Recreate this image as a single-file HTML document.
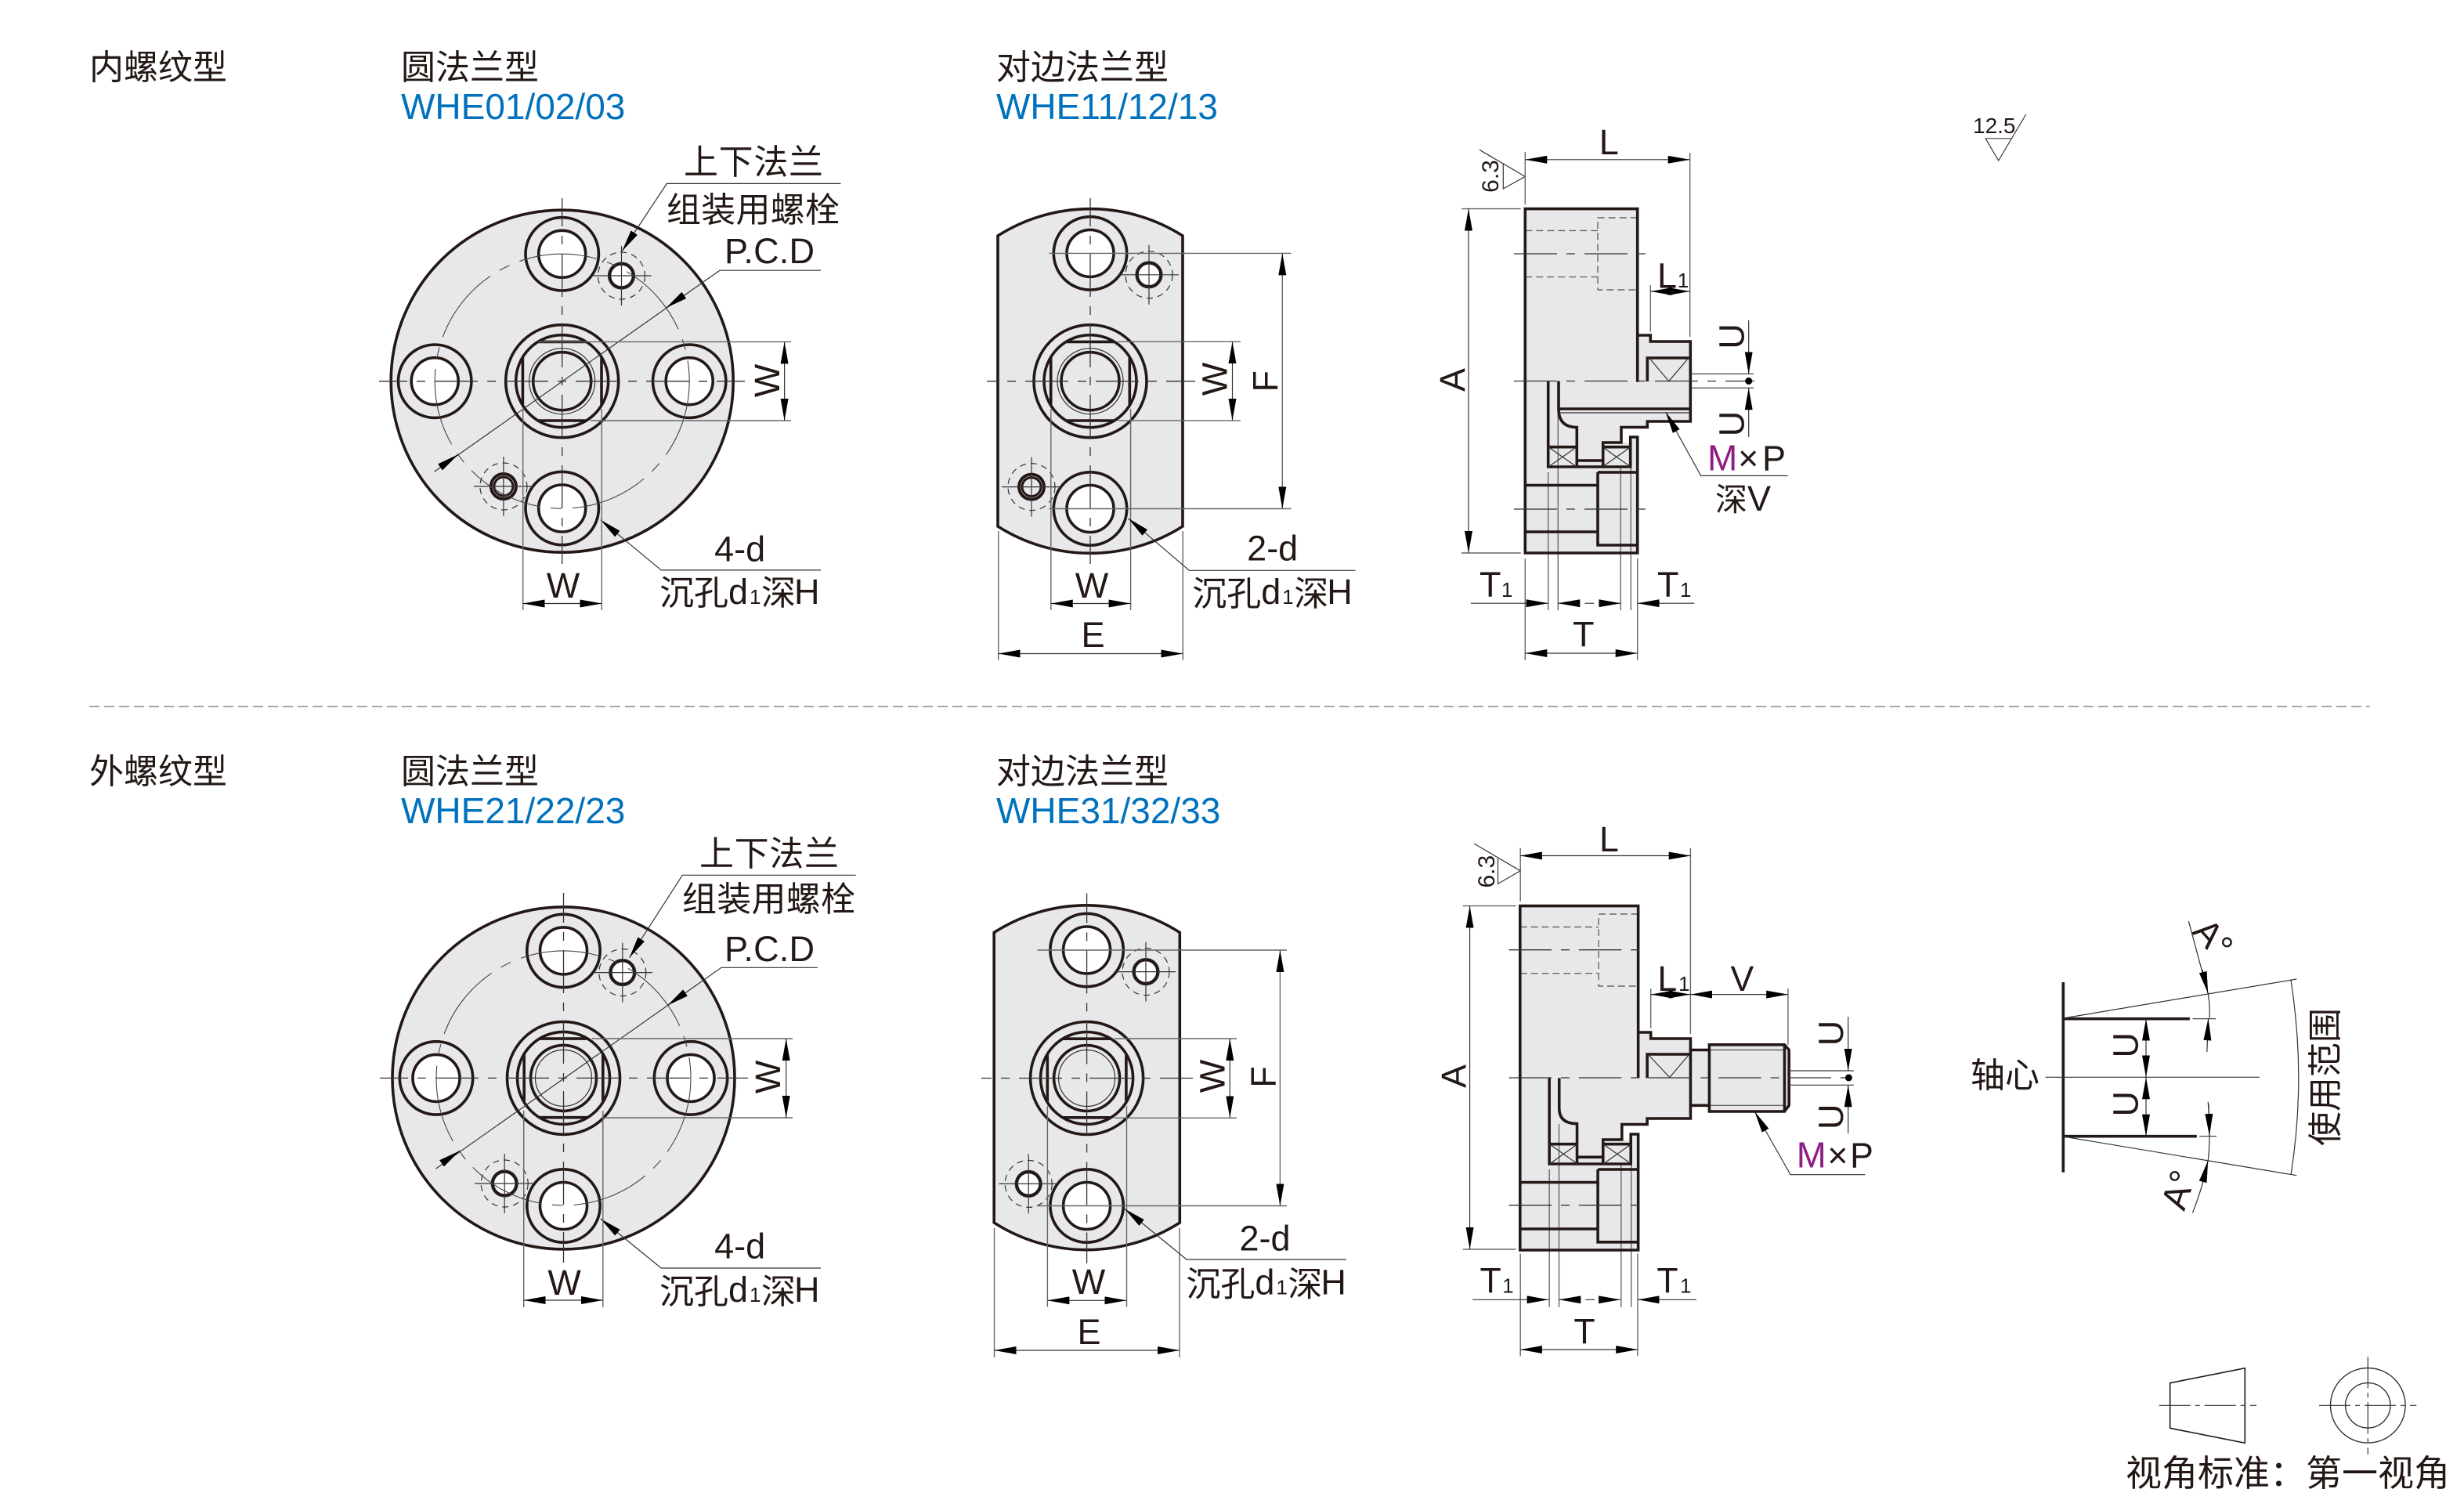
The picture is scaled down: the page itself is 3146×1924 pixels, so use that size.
<!DOCTYPE html>
<html lang="zh"><head><meta charset="utf-8"><title>WHE</title>
<style>
html,body{margin:0;padding:0;background:#fff}
svg{display:block}
text{font-family:"Liberation Sans","Noto Sans CJK SC",sans-serif;fill:#231815;font-size:45px}
.z{font-size:44px}
.s{font-size:26px}
.b{fill:#0071bc;font-size:46px}
.m{fill:#8e1e82;font-size:46px}
.t{stroke:#231815;stroke-width:3.6;fill:none}
.n{stroke:#333;stroke-width:1.2;fill:none}
.g{stroke:#666;stroke-width:1.4;fill:none}
.c{stroke:#333;stroke-width:1.3;fill:none;stroke-dasharray:55 12 11 12}
.p{stroke:#444;stroke-width:1.1;fill:none;stroke-dasharray:100 14 14 14}
.d{stroke:#666;stroke-width:1.4;fill:none;stroke-dasharray:9 5}
.f{fill:#e8e8ea;stroke:none}
</style></head><body>
<svg xmlns="http://www.w3.org/2000/svg" width="3146" height="1924" viewBox="0 0 3146 1924">
<defs>
<marker id="a" viewBox="0 0 28 10" refX="28" refY="5" markerWidth="28" markerHeight="10" markerUnits="userSpaceOnUse" orient="auto-start-reverse"><path d="M0 0L28 5L0 10z" fill="#000"/></marker>
<g id="cb"><circle r="46.7" class="t"/><circle r="30" class="t" fill="#fff" style="fill:#fff"/></g>
<g id="hubA"><circle r="72" class="t"/><circle r="59" class="t"/><circle r="42" class="n"/><circle r="37" class="t"/><path class="t" d="M-50.3 -30V30M50.3 -30V30M-30 -50.3H30M-30 50.3H30"/></g>
<g id="hubB"><circle r="72" class="t"/><circle r="59" class="t"/><circle r="36" class="n"/><circle r="42" class="t"/><path class="t" d="M-50.3 -30V30M50.3 -30V30M-30 -50.3H30M-30 50.3H30"/></g>
<g id="sm1"><circle r="30" class="n" style="stroke-dasharray:8 6"/><circle r="17" class="n"/><circle r="15" class="t" style="fill:#fff"/><path class="n" d="M-38 0H38M0 -38V38"/></g>
<g id="sm2"><circle r="30" class="n" style="stroke-dasharray:8 6"/><circle r="16" class="t" style="stroke-width:4"/><circle r="12" class="t" style="stroke-width:3"/><path class="n" d="M-38 0H38M0 -38V38"/></g>
<g id="xb"><path class="n" d="M0 0L36 25.3M36 0L0 25.3"/></g>
</defs>

<!-- headings -->
<text class="z" x="114" y="101">内螺纹型</text>
<text class="z" x="512" y="101">圆法兰型</text>
<text class="b" x="512" y="152">WHE01/02/03</text>
<text class="z" x="1272" y="101">对边法兰型</text>
<text class="b" x="1272" y="152">WHE11/12/13</text>
<line x1="114" y1="902" x2="3026" y2="902" stroke="#888" stroke-width="1.5" stroke-dasharray="13 6"/>
<text class="z" x="114" y="1000">外螺纹型</text>
<text class="z" x="512" y="1000">圆法兰型</text>
<text class="b" x="512" y="1051">WHE21/22/23</text>
<text class="z" x="1272" y="1000">对边法兰型</text>
<text class="b" x="1272" y="1051">WHE31/32/33</text>

<!-- 12.5 -->
<text x="2519" y="170" style="font-size:28px">12.5</text>
<path class="g" d="M2535 176.7H2568.3"/>
<path class="n" d="M2535 176.7L2551.7 205L2586.7 146"/>

<!-- A1 -->
<circle cx="717.7" cy="486.7" r="218.5" class="t" style="fill:#e8e8ea"/>
<use href="#cb" x="717.7" y="324.3"/><use href="#cb" x="555.2" y="486.7"/><use href="#cb" x="880.2" y="486.7"/><use href="#cb" x="717.7" y="649"/>
<use href="#hubA" x="717.7" y="486.7"/>
<use href="#sm1" x="793.5" y="352"/><use href="#sm2" x="642.9" y="621"/>
<circle cx="717.7" cy="486.7" r="162.5" class="p"/>
<line class="c" x1="484" y1="486.7" x2="951" y2="486.7" stroke-dashoffset="19"/>
<line class="c" x1="717.7" y1="253" x2="717.7" y2="720" stroke-dashoffset="19"/>
<path class="n" d="M554.5 602.2L919 345.2H1048"/>
<line class="n" x1="873.4" y1="376.9" x2="850.5" y2="393" marker-end="url(#a)"/>
<line class="n" x1="562" y1="596.4" x2="584.9" y2="580.3" marker-end="url(#a)"/>
<path class="n" d="M794.3 320.5L851.4 234.4H1073.5" marker-start="url(#a)"/>
<path class="n" d="M766.8 663.7L844.2 727.9H1048" marker-start="url(#a)"/>
<path class="g" d="M688 436.4H1010M754 537H1010M667.7 522V779M768.3 522V779"/>
<line class="n" x1="1001.6" y1="436.4" x2="1001.6" y2="537" marker-start="url(#a)" marker-end="url(#a)"/>
<line class="n" x1="667.7" y1="770.5" x2="768.3" y2="770.5" marker-start="url(#a)" marker-end="url(#a)"/>
<text class="z" x="873" y="222" textLength="178">上下法兰</text>
<text class="z" x="851" y="283" textLength="221">组装用螺栓</text>
<text x="925" y="336" textLength="115">P.C.D</text>
<text x="944.6" y="716.5" text-anchor="middle">4-d</text>
<text x="719" y="763" text-anchor="middle">W</text>
<text transform="translate(995,486) rotate(-90)" text-anchor="middle">W</text>
<g transform="translate(842,0)"><text class="z" y="772">沉孔</text><text x="88" y="771">d</text><text class="s" x="115" y="771">1</text><text class="z" x="130" y="772">深</text><text x="172" y="771">H</text></g>

<!-- B1 -->
<path class="t" style="fill:#e8e8ea" d="M1274 301A220 220 0 0 1 1510 301V672A220 220 0 0 1 1274 672Z"/>
<use href="#cb" x="1392" y="323.4"/><use href="#cb" x="1392" y="649.5"/>
<use href="#hubA" x="1392" y="486.7"/>
<use href="#sm1" x="1467" y="350.8"/><use href="#sm2" x="1317" y="621.6"/>
<line class="c" x1="1260" y1="486.7" x2="1526" y2="486.7" stroke-dashoffset="41"/>
<line class="c" x1="1392" y1="253" x2="1392" y2="720" stroke-dashoffset="19"/>
<path class="g" d="M1339.4 323.4H1648.5M1339.4 649.5H1648.5M1427.7 436.2H1584M1427.7 536.9H1584M1341.8 522V779M1443.6 522V779M1274.7 678V843M1510.3 678V843"/>
<line class="g" x1="1637.3" y1="323.4" x2="1637.3" y2="649.5" marker-start="url(#a)" marker-end="url(#a)"/>
<line class="n" x1="1573.5" y1="436.2" x2="1573.5" y2="536.9" marker-start="url(#a)" marker-end="url(#a)"/>
<line class="n" x1="1341.8" y1="770.5" x2="1443.6" y2="770.5" marker-start="url(#a)" marker-end="url(#a)"/>
<line class="n" x1="1274.7" y1="834.5" x2="1510.3" y2="834.5" marker-start="url(#a)" marker-end="url(#a)"/>
<path class="n" d="M1440.5 661.8L1518.4 728.3H1730.6" marker-start="url(#a)"/>
<text transform="translate(1631,486.7) rotate(-90)" text-anchor="middle">F</text>
<text transform="translate(1566.5,484) rotate(-90)" text-anchor="middle">W</text>
<text x="1394" y="763" text-anchor="middle">W</text>
<text x="1395.5" y="826" text-anchor="middle">E</text>
<text x="1624.7" y="715.4" text-anchor="middle">2-d</text>
<g transform="translate(1522.3,0)"><text class="z" y="773">沉孔</text><text x="88" y="771">d</text><text class="s" x="115" y="771">1</text><text class="z" x="130" y="773">深</text><text x="172" y="771">H</text></g>

<!-- C1 -->
<path class="f" d="M1947.3 266.6H2090.7V428H2107.3V436H2158.3V538H2103.3V545.5H2070V565H2081.7V558H2090.7V706H1947.3Z"/>
<path class="d" d="M1947.3 294.4H2040M1947.3 353.6H2040M2090.7 278H2040V370H2090.7"/>
<path class="g" d="M1976.7 603V779M1989.3 527V779M2069.3 596V779M2082.3 596V779"/>
<path class="t" d="M2090.7 487.7V266.6H1947.3V706H2090.7V558H2081.7V596H1976.7V486.5M1990 486.5V522Q1990 545.5 2013.3 545.5V596M2090.7 558V596M2090.7 428H2107.3V436H2158.3V538H2103.3V545.5H2070V565H2046.7V596M2103.3 487V457H2158.3M1990 522H2158.3M1976.7 570.7H2013.3M2046.7 570.7H2081.7M2013.3 588H2046.7M2040 603H2090.7M2040 603V696H2090.7M1947.3 619.5H2040M1947.3 679H2040M2090.7 596V706"/>
<path class="n" d="M1990 527H2158M2105.7 457L2130.7 486.7L2156 457"/>
<use href="#xb" x="1977" y="570.7"/><use href="#xb" x="2046" y="570.7"/>
<line class="c" x1="1933" y1="324" x2="2105" y2="324"/>
<line class="c" x1="1933" y1="650" x2="2103" y2="650"/>
<line class="c" x1="1933" y1="486.5" x2="2240" y2="486.5"/>
<path class="n" d="M2158 477.3H2239M2158 495.3H2239M1889 191.3L1947.3 225.4L1919.3 241V208.3"/>
<ellipse cx="2232.7" cy="486.5" rx="4.5" ry="4.5" fill="#000"/>
<line class="n" x1="2232.7" y1="409" x2="2232.7" y2="477.3" marker-end="url(#a)"/>
<line class="n" x1="2232.7" y1="558" x2="2232.7" y2="495.3" marker-end="url(#a)"/>
<path class="g" d="M1866 266.6H1941.7M1866 706H1941.7M1947.3 194V261M2157.7 195V430M2107.3 364V423.6M1947.3 713V843M2090.7 713V843"/>
<line class="n" x1="1875" y1="266.6" x2="1875" y2="706" marker-start="url(#a)" marker-end="url(#a)"/>
<line class="n" x1="1947.3" y1="203.8" x2="2157.7" y2="203.8" marker-start="url(#a)" marker-end="url(#a)"/>
<line class="n" x1="2107.3" y1="372" x2="2157.7" y2="372" marker-start="url(#a)" marker-end="url(#a)"/>
<line class="n" x1="1878" y1="770.2" x2="1976.7" y2="770.2" marker-end="url(#a)"/>
<line class="n" x1="1989.3" y1="770.2" x2="2069.3" y2="770.2" stroke-dasharray="28 6 12 6 28" marker-start="url(#a)" marker-end="url(#a)"/>
<line class="n" x1="2163.3" y1="770.2" x2="2090.7" y2="770.2" marker-end="url(#a)"/>
<line class="n" x1="1947.3" y1="834" x2="2090.7" y2="834" marker-start="url(#a)" marker-end="url(#a)"/>
<path class="n" d="M2126.7 526L2171.7 607.4H2282.7" marker-start="url(#a)"/>
<text x="2054.3" y="197" text-anchor="middle">L</text>
<text transform="translate(1913,225) rotate(-90)" text-anchor="middle" style="font-size:30px">6.3</text>
<text x="2116" y="367.5">L</text><text class="s" x="2141.7" y="367">1</text>
<text transform="translate(1870,485) rotate(-90)" text-anchor="middle">A</text>
<text transform="translate(2226.7,429.4) rotate(-90)" text-anchor="middle">U</text>
<text transform="translate(2226.7,541) rotate(-90)" text-anchor="middle">U</text>
<text x="1889" y="762">T</text><text class="s" x="1917" y="762">1</text>
<text x="2116" y="762">T</text><text class="s" x="2145" y="762">1</text>
<text x="2021.7" y="825.5" text-anchor="middle">T</text>
<text class="m" x="2180" y="600.7">M</text><text x="2219" y="600.7">×</text><text x="2250" y="600.7">P</text>
<text class="z" x="2190" y="652" style="font-size:41px">深</text><text x="2231" y="652">V</text>

<!-- A2 -->
<circle cx="719.5" cy="1376.4" r="218.5" class="t" style="fill:#e8e8ea"/>
<use href="#cb" x="719.5" y="1213.9"/><use href="#cb" x="557" y="1376.4"/><use href="#cb" x="882" y="1376.4"/><use href="#cb" x="719.5" y="1539.5"/>
<use href="#hubB" x="719.5" y="1376.4"/>
<use href="#sm1" x="794.8" y="1241.6"/><use href="#sm1" x="644.2" y="1511"/>
<circle cx="719.5" cy="1376.4" r="162.5" class="p"/>
<line class="c" x1="485" y1="1376.4" x2="955" y2="1376.4" stroke-dashoffset="19"/>
<line class="c" x1="719.5" y1="1140" x2="719.5" y2="1612" stroke-dashoffset="17"/>
<path class="n" d="M556.6 1492L921 1235.3H1044"/>
<line class="n" x1="875" y1="1267.5" x2="852.2" y2="1283.6" marker-end="url(#a)"/>
<line class="n" x1="564" y1="1485.3" x2="586.9" y2="1469.2" marker-end="url(#a)"/>
<path class="n" d="M803.6 1222.7L871.3 1117.3H1092.7" marker-start="url(#a)"/>
<path class="n" d="M766.8 1556L844.2 1619H1048" marker-start="url(#a)"/>
<path class="g" d="M756 1326H1012M769 1427H1012M668.7 1418V1669M769.8 1418V1669"/>
<line class="n" x1="1003.7" y1="1326" x2="1003.7" y2="1427" marker-start="url(#a)" marker-end="url(#a)"/>
<line class="n" x1="668.7" y1="1660" x2="769.8" y2="1660" marker-start="url(#a)" marker-end="url(#a)"/>
<text class="z" x="893" y="1105" textLength="178">上下法兰</text>
<text class="z" x="871" y="1163" textLength="221">组装用螺栓</text>
<text x="925" y="1227" textLength="115">P.C.D</text>
<text x="944.6" y="1606.6" text-anchor="middle">4-d</text>
<text x="720.6" y="1653" text-anchor="middle">W</text>
<text transform="translate(996,1375) rotate(-90)" text-anchor="middle">W</text>
<g transform="translate(842,0)"><text class="z" y="1664">沉孔</text><text x="88" y="1662">d</text><text class="s" x="115" y="1662">1</text><text class="z" x="130" y="1664">深</text><text x="172" y="1662">H</text></g>

<!-- B2 -->
<g transform="translate(-1,0)">
<path class="t" style="fill:#e8e8ea" d="M1270.2 1190.5A220 220 0 0 1 1507.3 1190.5V1561A220 220 0 0 1 1270.2 1561Z"/>
<use href="#cb" x="1388.6" y="1213"/><use href="#cb" x="1388.6" y="1539.5"/>
<use href="#hubB" x="1388.6" y="1376.5"/>
<use href="#sm1" x="1464" y="1240.6"/><use href="#sm1" x="1314.2" y="1511.4"/>
<line class="c" x1="1254" y1="1376.5" x2="1524" y2="1376.5" stroke-dashoffset="42"/>
<line class="c" x1="1388.6" y1="1140.5" x2="1388.6" y2="1613" stroke-dashoffset="17"/>
<path class="g" d="M1325.6 1213H1644M1325.6 1539.5H1644M1424 1326H1580M1424 1427.3H1580M1338.4 1412V1668.5M1439.5 1412V1668.5M1270.5 1568V1733M1507 1568V1733"/>
<line class="g" x1="1635.4" y1="1213" x2="1635.4" y2="1539.5" marker-start="url(#a)" marker-end="url(#a)"/>
<line class="n" x1="1571.3" y1="1326" x2="1571.3" y2="1427.3" marker-start="url(#a)" marker-end="url(#a)"/>
<line class="n" x1="1338.4" y1="1660.3" x2="1439.5" y2="1660.3" marker-start="url(#a)" marker-end="url(#a)"/>
<line class="n" x1="1270.5" y1="1724" x2="1507" y2="1724" marker-start="url(#a)" marker-end="url(#a)"/>
<path class="n" d="M1437 1543.4L1516 1608H1720" marker-start="url(#a)"/>
<text transform="translate(1629.5,1375) rotate(-90)" text-anchor="middle">F</text>
<text transform="translate(1564.5,1374) rotate(-90)" text-anchor="middle">W</text>
<text x="1391" y="1652" text-anchor="middle">W</text>
<text x="1391.5" y="1716" text-anchor="middle">E</text>
<text x="1616" y="1596.5" text-anchor="middle">2-d</text>
<g transform="translate(1515.4,0)"><text class="z" y="1654.5">沉孔</text><text x="88" y="1652.5">d</text><text class="s" x="115" y="1652.5">1</text><text class="z" x="130" y="1654.5">深</text><text x="172" y="1652.5">H</text></g>
</g>

<!-- C2 -->
<g transform="translate(1941,0) scale(.991,1) translate(-1941,0)">
<path class="f" d="M1940.8 1156.6H2093V1318H2109.2V1326H2160.4V1340.5H2184.6V1333.8H2281.5L2287.3 1340.5V1411.3L2281.5 1419H2184.6V1411.3H2160.4V1428H2104.6V1435.5H2072V1455H2083.5V1448H2093V1596H1940.8Z"/>
<path class="d" d="M1940.8 1183.5H2042M1940.8 1242.7H2042M2093 1167H2042V1259H2093"/>
<path class="g" d="M1978.5 1493V1668.7M1991 1435V1668.7M2071 1486V1668.7M2084 1486V1668.7M2184.6 1340.5H2281.5M2184.6 1411.3H2281.5"/>
<path class="t" d="M2093 1376V1156.6H1940.8V1596H2093V1448H2083.5V1486H1978.5V1376.4M1991.2 1376.4V1415Q1991.2 1434.6 2014.2 1434.6V1486M2093 1318H2109.2V1326H2160.4V1428H2104.6V1435.5H2072V1455H2047.7V1486M2160.4 1340.5Q2164 1340.5 2168 1340.5H2184.6M2184.6 1333.8H2281.5L2287.3 1340.5V1411.3L2281.5 1419H2184.6ZM2281.5 1333.8V1419M2160.4 1411.3H2184.6M2104.6 1376.4V1346H2160.4M1978.5 1460.7H2014.2M2047.7 1460.7H2084.6M2014.2 1477.3H2047.7M2041 1493H2093M2041 1493V1585.8H2093M1940.8 1509.5H2041M1940.8 1569H2041M2093 1486V1596"/>
<path class="n" d="M2106.5 1347L2133.5 1375.5L2158 1347"/>
<g transform="translate(0,890)"><use href="#xb" x="1978.8" y="570.7"/><use href="#xb" x="2048" y="570.7"/></g>
<line class="c" x1="1926.5" y1="1212.7" x2="2106.5" y2="1212.7"/>
<line class="c" x1="1926.5" y1="1538.7" x2="2106.5" y2="1538.7"/>
<line class="c" x1="1926.5" y1="1376" x2="2370.8" y2="1376"/>
<path class="n" d="M2287 1367H2370.8M2287 1385.3H2370.8M1881.5 1077L1941.2 1111.8L1912.3 1128.4V1096"/>
<ellipse cx="2364.2" cy="1376" rx="4.5" ry="4.5" fill="#000"/>
<line class="n" x1="2363.5" y1="1298" x2="2363.5" y2="1367" marker-end="url(#a)"/>
<line class="n" x1="2363.5" y1="1447" x2="2363.5" y2="1385.3" marker-end="url(#a)"/>
<path class="g" d="M1867 1156.6H1935.4M1867 1595H1935.4M1941.2 1082.6V1151M2160.4 1082.6V1320M2109.2 1262V1312.7M2286 1262V1333.8M1941.2 1600.6V1731.5M2092.3 1600.6V1731.5"/>
<line class="n" x1="1876" y1="1156.6" x2="1876" y2="1595" marker-start="url(#a)" marker-end="url(#a)"/>
<line class="n" x1="1941.2" y1="1092.5" x2="2160.4" y2="1092.5" marker-start="url(#a)" marker-end="url(#a)"/>
<line class="n" x1="2109.2" y1="1269.6" x2="2160.4" y2="1269.6" marker-start="url(#a)" marker-end="url(#a)"/>
<line class="n" x1="2160.4" y1="1269.6" x2="2286" y2="1269.6" marker-start="url(#a)" marker-end="url(#a)"/>
<line class="n" x1="1879.6" y1="1659.3" x2="1977.7" y2="1659.3" marker-end="url(#a)"/>
<line class="n" x1="1991" y1="1659.3" x2="2070" y2="1659.3" stroke-dasharray="28 6 12 6 28" marker-start="url(#a)" marker-end="url(#a)"/>
<line class="n" x1="2168" y1="1659.3" x2="2092.3" y2="1659.3" marker-end="url(#a)"/>
<line class="n" x1="1941.2" y1="1723" x2="2092.3" y2="1723" marker-start="url(#a)" marker-end="url(#a)"/>
<path class="n" d="M2243 1419L2289.2 1499.7H2385.4" marker-start="url(#a)"/>
<text x="2055.4" y="1087" text-anchor="middle">L</text>
<text transform="translate(1907.7,1112.7) rotate(-90)" text-anchor="middle" style="font-size:30px">6.3</text>
<text x="2118" y="1265">L</text><text class="s" x="2145" y="1265">1</text>
<text x="2227" y="1265" text-anchor="middle">V</text>
<text transform="translate(1870.8,1374) rotate(-90)" text-anchor="middle">A</text>
<text transform="translate(2356.5,1319) rotate(-90)" text-anchor="middle">U</text>
<text transform="translate(2356.5,1425.7) rotate(-90)" text-anchor="middle">U</text>
<text x="1889" y="1650.5">T</text><text class="s" x="1918" y="1650.5">1</text>
<text x="2117" y="1650.5">T</text><text class="s" x="2147" y="1650.5">1</text>
<text x="2023.8" y="1715.5" text-anchor="middle">T</text>
<text class="m" x="2297" y="1490.7">M</text><text x="2337" y="1490.7">×</text><text x="2366" y="1490.7">P</text>
</g>

<!-- D usage range -->
<path class="t" d="M2634.3 1254V1496.7M2634.3 1300.7H2795.9M2634.3 1450.7H2804.8"/>
<path class="n" d="M2799.5 1300.7H2829M2808 1450.7H2830M2634.3 1300L2932.3 1250M2634.3 1451L2932.3 1500.7M2611.7 1375.3H2885M2925 1251.7Q2944.6 1376 2925 1500M2794.4 1176L2819.2 1268.3Q2822 1284 2821 1300M2819.2 1406.7Q2821 1428 2821 1450Q2821 1466 2819.2 1481.7Q2813 1514 2799.5 1548.3"/>
<line class="n" x1="2812" y1="1238" x2="2819.2" y2="1268.3" marker-end="url(#a)"/>
<line class="n" x1="2817.8" y1="1343" x2="2819.5" y2="1300.3" marker-end="url(#a)"/>
<line class="n" x1="2820" y1="1410" x2="2821" y2="1450" marker-end="url(#a)"/>
<line class="n" x1="2812" y1="1511.7" x2="2819.2" y2="1481.7" marker-end="url(#a)"/>
<line class="n" x1="2740" y1="1300.7" x2="2740" y2="1375.3" marker-start="url(#a)" marker-end="url(#a)"/>
<line class="n" x1="2740" y1="1375.3" x2="2740" y2="1450.7" marker-start="url(#a)" marker-end="url(#a)"/>
<text transform="translate(2729.5,1334.3) rotate(-90)" text-anchor="middle">U</text>
<text transform="translate(2729.5,1409.3) rotate(-90)" text-anchor="middle">U</text>
<text transform="translate(2826,1198) rotate(48)" text-anchor="middle" dy=".35em" style="font-size:46px">A°</text>
<text transform="translate(2781,1519) rotate(-72)" text-anchor="middle" dy=".35em" style="font-size:46px">A°</text>
<text class="z" x="2516" y="1388">轴心</text>
<text class="z" transform="translate(2984,1375) rotate(-90)" text-anchor="middle">使用范围</text>

<!-- view angle -->
<path class="n" style="stroke-width:1.6;stroke:#231815" d="M2770.7 1765.7L2866.3 1746.7V1842.3L2770.7 1823.3Z"/>
<line class="n" x1="2756.7" y1="1794.3" x2="2881" y2="1794.3" stroke-dasharray="40 6 6 6"/>
<circle cx="3023.3" cy="1794.3" r="47.8" class="n" style="stroke-width:1.4"/>
<circle cx="3023.3" cy="1794.3" r="28.7" class="n" style="stroke-width:1.4"/>
<line class="n" x1="2961" y1="1794.3" x2="3085.3" y2="1794.3" stroke-dasharray="40 6 6 6"/>
<line class="n" x1="3023.3" y1="1732.3" x2="3023.3" y2="1856.7" stroke-dasharray="40 6 6 6"/>
<text class="z" x="2714" y="1897" style="font-size:46px">视角标准：第一视角</text>
</svg>
</body></html>
